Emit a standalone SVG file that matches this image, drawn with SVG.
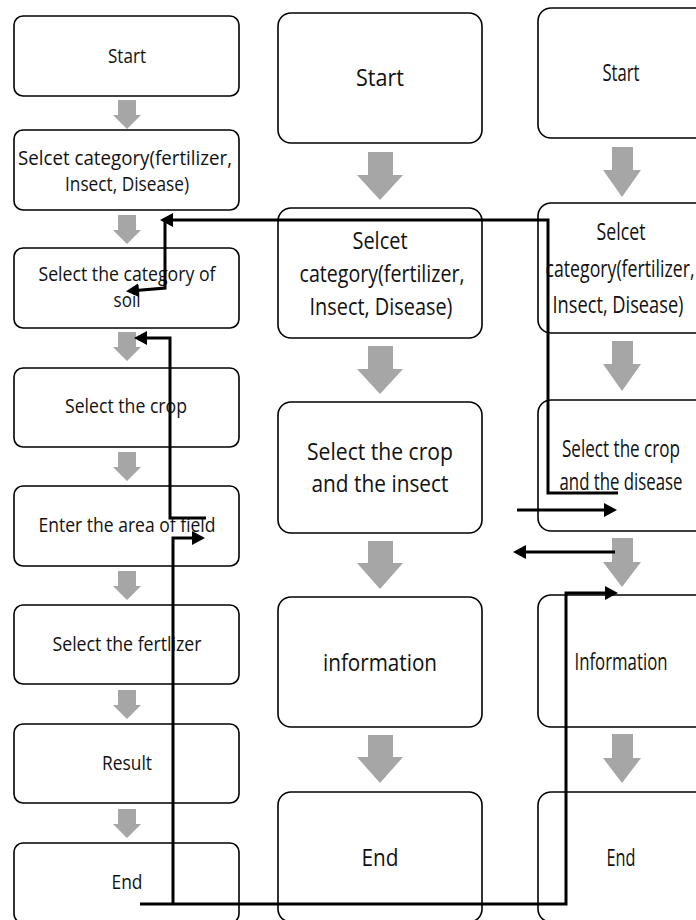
<svg xmlns="http://www.w3.org/2000/svg" width="696" height="920" viewBox="0 0 696 920">
<defs>
<style>
.bx{fill:#fff;stroke:#000;stroke-width:1.6}
.t{font-family:"Open Sans","Noto Sans","Liberation Sans",sans-serif;fill:#111;text-anchor:middle}
.l{font-size:19.5px}
.m{font-size:24.5px}
.r{font-size:16px}
.ga{fill:#a6a6a6}
.cn{fill:none;stroke:#000;stroke-width:3}
</style>
<marker id="ah" markerUnits="userSpaceOnUse" markerWidth="14" markerHeight="14" refX="9" refY="7" orient="auto">
<path d="M0,0 L13,7 L0,14 z" fill="#000"/>
</marker>
</defs>
<rect width="696" height="920" fill="#fff"/>

<!-- gray block arrows -->
<g id="flow-arrows">
<path class="ga" d="M118,100 h18 v15 h5 l-14,14 l-14,-14 h5 z"/>
<path class="ga" d="M118,215 h18 v15 h5 l-14,14 l-14,-14 h5 z"/>
<path class="ga" d="M118,332 h18 v15 h5 l-14,14 l-14,-14 h5 z"/>
<path class="ga" d="M118,452 h18 v15 h5 l-14,14 l-14,-14 h5 z"/>
<path class="ga" d="M118,571 h18 v15 h5 l-14,14 l-14,-14 h5 z"/>
<path class="ga" d="M118,690 h18 v15 h5 l-14,14 l-14,-14 h5 z"/>
<path class="ga" d="M118,809 h18 v15 h5 l-14,14 l-14,-14 h5 z"/>
<path class="ga" d="M368,152 h25 v23 h10 l-23,25 l-23,-25 h11 z"/>
<path class="ga" d="M368,346 h25 v23 h10 l-23,25 l-23,-25 h11 z"/>
<path class="ga" d="M368,541 h25 v22 h10 l-23,26 l-23,-26 h11 z"/>
<path class="ga" d="M368,735 h25 v22 h10 l-23,26 l-23,-26 h11 z"/>
<path class="ga" d="M612,147 h21 v23 h8 l-19,27 l-19,-27 h9 z"/>
<path class="ga" d="M612,341 h21 v23 h8 l-19,27 l-19,-27 h9 z"/>
<path class="ga" d="M612,538 h21 v24 h8 l-19,25 l-19,-25 h9 z"/>
<path class="ga" d="M612,734 h21 v24 h8 l-19,25 l-19,-25 h9 z"/>
</g>

<!-- left column -->
<g id="L1"><rect class="bx" x="14" y="16" width="225" height="80" rx="9"/><text class="t l" x="127" y="63" textLength="38" lengthAdjust="spacingAndGlyphs">Start</text></g>
<g id="L2"><rect class="bx" x="14" y="130" width="225" height="80" rx="9"/><text class="t l" x="125" y="165" textLength="214" lengthAdjust="spacingAndGlyphs">Selcet category(fertilizer,</text><text class="t l" x="127" y="191" textLength="124" lengthAdjust="spacingAndGlyphs">Insect, Disease)</text></g>
<g id="L3"><rect class="bx" x="14" y="248" width="225" height="80" rx="9"/><text class="t l" x="127" y="281" textLength="177" lengthAdjust="spacingAndGlyphs">Select the category of</text><text class="t l" x="127" y="307" textLength="27" lengthAdjust="spacingAndGlyphs">soil</text></g>
<g id="L4"><rect class="bx" x="14" y="368" width="225" height="79" rx="9"/><text class="t l" x="126" y="413" textLength="122" lengthAdjust="spacingAndGlyphs">Select the crop</text></g>
<g id="L5"><rect class="bx" x="14" y="486" width="225" height="80" rx="9"/><text class="t l" x="127" y="532" textLength="177" lengthAdjust="spacingAndGlyphs">Enter the area of field</text></g>
<g id="L6"><rect class="bx" x="14" y="605" width="225" height="79" rx="9"/><text class="t l" x="127" y="651" textLength="149" lengthAdjust="spacingAndGlyphs">Select the fertlizer</text></g>
<g id="L7"><rect class="bx" x="14" y="724" width="225" height="79" rx="9"/><text class="t l" x="127" y="770" textLength="50" lengthAdjust="spacingAndGlyphs">Result</text></g>
<g id="L8"><rect class="bx" x="14" y="843" width="225" height="80" rx="9"/><text class="t l" x="127" y="889" textLength="31" lengthAdjust="spacingAndGlyphs">End</text></g>

<!-- middle column -->
<g id="M1"><rect class="bx" x="278" y="13" width="204" height="130" rx="13"/><text class="t m" x="380" y="86" textLength="48" lengthAdjust="spacingAndGlyphs">Start</text></g>
<g id="M2"><rect class="bx" x="278" y="208" width="204" height="130" rx="13"/><text class="t m" x="380" y="249" textLength="55" lengthAdjust="spacingAndGlyphs">Selcet</text><text class="t m" x="382" y="282" textLength="165" lengthAdjust="spacingAndGlyphs">category(fertilizer,</text><text class="t m" x="381" y="315" textLength="143" lengthAdjust="spacingAndGlyphs">Insect, Disease)</text></g>
<g id="M3"><rect class="bx" x="278" y="402" width="204" height="131" rx="13"/><text class="t m" x="380" y="460" textLength="146" lengthAdjust="spacingAndGlyphs">Select the crop</text><text class="t m" x="380" y="492" textLength="137" lengthAdjust="spacingAndGlyphs">and the insect</text></g>
<g id="M4"><rect class="bx" x="278" y="597" width="204" height="130" rx="13"/><text class="t m" x="380" y="671" textLength="114" lengthAdjust="spacingAndGlyphs">information</text></g>
<g id="M5"><rect class="bx" x="278" y="792" width="204" height="130" rx="13"/><text class="t m" x="380" y="866" textLength="37" lengthAdjust="spacingAndGlyphs">End</text></g>

<!-- right column (text stretched vertically as in the reference) -->
<g id="R1"><rect class="bx" x="538" y="8" width="204" height="130" rx="13"/><text class="t r" transform="translate(621,81) scale(1,1.5)" textLength="37" lengthAdjust="spacingAndGlyphs">Start</text></g>
<g id="R2"><rect class="bx" x="538" y="203" width="204" height="130" rx="13"/><text class="t r" transform="translate(621,240) scale(1,1.5)" textLength="49" lengthAdjust="spacingAndGlyphs">Selcet</text><text class="t r" transform="translate(620,277) scale(1,1.5)" textLength="149" lengthAdjust="spacingAndGlyphs">category(fertilizer,</text><text class="t r" transform="translate(618,313) scale(1,1.5)" textLength="131" lengthAdjust="spacingAndGlyphs">Insect, Disease)</text></g>
<g id="R3"><rect class="bx" x="538" y="400" width="204" height="131" rx="13"/><text class="t r" transform="translate(621,457) scale(1,1.5)" textLength="118" lengthAdjust="spacingAndGlyphs">Select the crop</text><text class="t r" transform="translate(621,490) scale(1,1.5)" textLength="123" lengthAdjust="spacingAndGlyphs">and the disease</text></g>
<g id="R4"><rect class="bx" x="538" y="595" width="204" height="132" rx="13"/><text class="t r" transform="translate(621,670) scale(1,1.5)" textLength="93" lengthAdjust="spacingAndGlyphs">Information</text></g>
<g id="R5"><rect class="bx" x="538" y="792" width="204" height="130" rx="13"/><text class="t r" transform="translate(621,866) scale(1,1.5)" textLength="29" lengthAdjust="spacingAndGlyphs">End</text></g>

<!-- black connectors -->
<g id="connectors">
<path class="cn" d="M618,493 H548 V220 H164" marker-end="url(#ah)"/>
<path class="cn" d="M165,221 V288 L130,291" marker-end="url(#ah)"/>
<path class="cn" d="M206,518 H170 V338 H138" marker-end="url(#ah)"/>
<path class="cn" d="M140,904 H566 V593 H614" marker-end="url(#ah)"/>
<path class="cn" d="M173,904 V538 H201" marker-end="url(#ah)"/>
<path class="cn" d="M517,510 H613" marker-end="url(#ah)"/>
<path class="cn" d="M615,552 H517" marker-end="url(#ah)"/>
</g>
</svg>
